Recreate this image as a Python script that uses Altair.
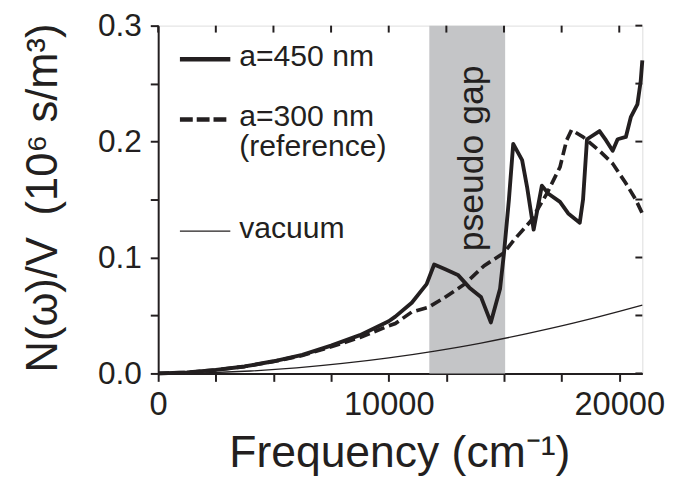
import altair as alt
import pandas as pd

# ---- data ----
solid_f = [0, 1250, 2500, 3750, 5000, 6250, 7500, 8750, 10000, 10285, 11000, 11643, 11971,
           12429, 13000, 13500, 14000, 14429, 14829, 15000, 15214, 15400, 15786, 16000, 16286,
           16643, 16929, 17429, 17786, 18286, 18429, 18600, 19143, 19429, 19714, 19929, 20286,
           20500, 20786, 20929, 21000]
solid_v = [0, 0.0008, 0.003, 0.006, 0.0105, 0.016, 0.024, 0.033, 0.045, 0.049, 0.061, 0.077, 0.094,
           0.090, 0.085, 0.074, 0.066, 0.044, 0.073, 0.104, 0.150, 0.198, 0.184, 0.161, 0.124,
           0.162, 0.155, 0.148, 0.138, 0.130, 0.150, 0.202, 0.209, 0.201, 0.192, 0.202, 0.204,
           0.221, 0.232, 0.252, 0.270]

dash_f = [0, 1250, 2500, 3750, 5000, 6250, 7500, 8750, 10000, 10285, 11000, 11714, 12429, 13286,
          14143, 15000, 15428, 16143, 16857, 17429, 17714, 17929, 18429, 19143, 19714, 20286,
          20714, 21000]
dash_v = [0, 0.0008, 0.003, 0.006, 0.0103, 0.0155, 0.023, 0.031, 0.041, 0.043, 0.053, 0.057, 0.0655,
          0.077, 0.093, 0.104, 0.115, 0.131, 0.155, 0.178, 0.201, 0.210, 0.204, 0.192, 0.181,
          0.164, 0.150, 0.138]

vac_f = [0, 2000, 4000, 6000, 8000, 10000, 12000, 14000, 16000, 18000, 20000, 21000]
vac_v = [0, 0.0005, 0.0021, 0.0048, 0.0086, 0.0134, 0.0193, 0.0262, 0.0343, 0.0433, 0.0535, 0.059]

gap_start = [11760]
gap_end = [15050]
gap_label = ["pseudo gap"]
gap_label_f = [14080]
gap_label_v = [0.1855]

x_ticks = [0, 2500, 5000, 7500, 10000, 12500, 15000, 17500, 20000]
y_ticks = [0, 0.05, 0.1, 0.15, 0.2, 0.25, 0.3]

legend_labels = [["a=450 nm"], ["a=300 nm", "(reference)"], ["vacuum"]]

# ---- styling ----
INK = "#231f20"
FONT = "Liberation Sans"
W, H = 490, 352

solid_df = pd.DataFrame({"f": solid_f, "v": solid_v})
dash_df = pd.DataFrame({"f": dash_f, "v": dash_v})
vac_df = pd.DataFrame({"f": vac_f, "v": vac_v})
gap_df = pd.DataFrame({"s": gap_start, "e": gap_end})
lab_df = pd.DataFrame({"f": gap_label_f, "v": gap_label_v, "t": gap_label})
xt_df = pd.DataFrame({"f": x_ticks})
yt_df = pd.DataFrame({"v": y_ticks})

xs = alt.Scale(domain=[0, 21000], nice=False, zero=False)
ys = alt.Scale(domain=[0, 0.3], nice=False)

x_bottom = alt.Axis(
    values=x_ticks, labelExpr="datum.value % 10000 == 0 ? format(datum.value, 'd') : ''",
    labelFlush=False, labelOverlap=False, tickSize=8, tickWidth=2, domainWidth=2,
    domainColor=INK, tickColor=INK, labelColor=INK, labelFont=FONT, labelFontSize=33,
    labelPadding=8, grid=False, title="Frequency (cm⁻¹)", titleFont=FONT, titleFontSize=45,
    titleFontWeight="normal", titleColor=INK, titleX=244, titleY=94,
    titleBaseline="alphabetic", titleAlign="center")
y_left = alt.Axis(
    values=y_ticks,
    labelExpr="round(datum.value * 20) % 2 == 0 ? format(datum.value, '.1f') : ''",
    labelFlush=False, labelOverlap=False, tickSize=8, tickWidth=2, domainWidth=2,
    domainColor=INK, tickColor=INK, labelColor=INK, labelFont=FONT, labelFontSize=32,
    labelPadding=9, grid=False, title="N(ω)/V\u2002(10⁶ s/m³)", titleFont=FONT,
    titleFontSize=44, titleFontWeight="normal", titleColor=INK, titleX=-103, titleY=174,
    titleBaseline="alphabetic", titleAlign="center", titleAngle=270)

band = alt.Chart(gap_df).mark_rect(color="#c4c5c7").encode(
    x=alt.X("s:Q", scale=xs, axis=None), x2="e:Q")

# inward ticks on the top and right edges of the frame
top_ticks = alt.Chart(xt_df).mark_rule(color=INK, strokeWidth=2).encode(
    x=alt.X("f:Q", scale=xs, axis=None), y=alt.value(0), y2=alt.value(7))
right_ticks = alt.Chart(yt_df).mark_rule(color=INK, strokeWidth=2).encode(
    y=alt.Y("v:Q", scale=ys, axis=None), x=alt.value(W - 7), x2=alt.value(W))

vac = alt.Chart(vac_df).mark_line(color=INK, strokeWidth=1.3, interpolate="monotone").encode(
    x=alt.X("f:Q", scale=xs, axis=None), y=alt.Y("v:Q", scale=ys, axis=None))

dash = alt.Chart(dash_df).mark_line(color=INK, strokeWidth=3.7, strokeDash=[11, 5]).encode(
    x=alt.X("f:Q", scale=xs, axis=None), y=alt.Y("v:Q", scale=ys, axis=None))

solid = alt.Chart(solid_df).mark_line(color=INK, strokeWidth=3.9, strokeJoin="round").encode(
    x=alt.X("f:Q", scale=xs, axis=x_bottom), y=alt.Y("v:Q", scale=ys, axis=y_left))

gap_text = alt.Chart(lab_df).mark_text(
    angle=270, font=FONT, fontSize=36, color=INK, align="center", baseline="alphabetic").encode(
    x=alt.X("f:Q", scale=xs, axis=None), y=alt.Y("v:Q", scale=ys, axis=None), text="t:N")

# legend (drawn in pixel space inside the plot)
one = pd.DataFrame({"k": [0]})
leg_solid = alt.Chart(one).mark_rule(color=INK, strokeWidth=4.5).encode(
    x=alt.value(22), x2=alt.value(73), y=alt.value(34))
leg_dash = alt.Chart(one).mark_rule(color=INK, strokeWidth=4.5, strokeDash=[13, 4]).encode(
    x=alt.value(22), x2=alt.value(73), y=alt.value(95))
leg_vac = alt.Chart(one).mark_rule(color=INK, strokeWidth=1.3).encode(
    x=alt.value(22), x2=alt.value(73), y=alt.value(208))

leg_ys = [41, 102, 215]
leg_texts = [
    alt.Chart(one).mark_text(font=FONT, fontSize=30.5, color=INK, align="left",
                             baseline="alphabetic", lineHeight=30,
                             text=t if len(t) > 1 else t[0]).encode(
        x=alt.value(82), y=alt.value(yy))
    for t, yy in zip(legend_labels, leg_ys)
]

chart = alt.layer(
    band, top_ticks, right_ticks, vac, dash, solid, gap_text,
    leg_solid, leg_dash, leg_vac, *leg_texts
).resolve_axis(x="independent", y="independent").properties(
    width=W, height=H,
    padding={"left": 152, "top": 15, "right": 27, "bottom": 105},
    autosize=alt.AutoSizeParams(type="none"),
).configure_view(stroke=INK, strokeWidth=2).configure(background="white")

chart.save("out.html", embed_options={"renderer": "svg", "actions": False})
